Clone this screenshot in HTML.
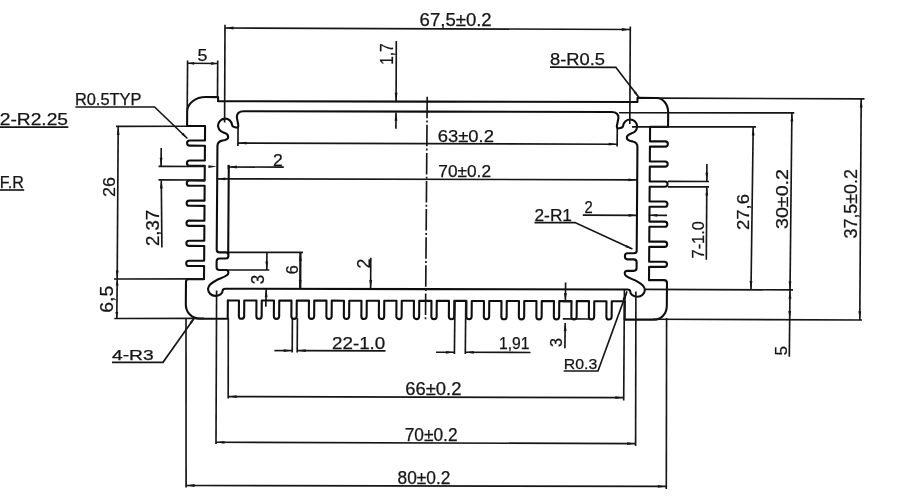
<!DOCTYPE html>
<html><head><meta charset="utf-8"><title>drawing</title>
<style>html,body{margin:0;padding:0;background:#fff;}svg{display:block;}</style>
</head><body>
<svg width="900" height="500" viewBox="0 0 900 500">
<defs><filter id="soft" x="0" y="0" width="100%" height="100%" filterUnits="userSpaceOnUse"><feGaussianBlur stdDeviation="0.45"/></filter></defs>
<g filter="url(#soft)">
<rect width="900" height="500" fill="#ffffff"/>
<g transform="matrix(1 0.0020 -0.0070 1.0027 1.46 -1.12)" fill="none" stroke="#111111" stroke-width="2.1" stroke-linejoin="round" stroke-linecap="round">
<g><path d="M 427 101.6 H 217.3 V 97.5 H 205 A 18.5 14.5 0 0 0 186.5 112 V 126.3 H 204.5 V 140.8 H 189.2 A 2.6 2.6 0 0 0 189.2 146 H 204.5 V 160.8 H 189.2 A 2.6 2.6 0 0 0 189.2 166 H 204.5 V 180.8 H 189.2 A 2.6 2.6 0 0 0 189.2 186 H 204.5 V 200.8 H 189.2 A 2.6 2.6 0 0 0 189.2 206 H 204.5 V 220.8 H 189.2 A 2.6 2.6 0 0 0 189.2 226 H 204.5 V 240.8 H 189.2 A 2.6 2.6 0 0 0 189.2 246 H 204.5 V 260.8 H 189.2 A 2.6 2.6 0 0 0 189.2 266 H 204.5 V 279.2 H 189 Q 186.5 279.2 186.5 281.7 V 304.6 A 14 14 0 0 0 200.5 318.6 H 228.5 V 300.3"/><path d="M 427 111.6 H 243 C 239 111.6 236.2 113.2 236.2 117.4 L 237.7 125.6 C 237.9 127.6 236.9 128.2 235.9 127.9 C 233.8 127.3 231.6 127.6 231.45 125.1 A 7 7 0 1 0 222.9 132.8 C 225.1 133.7 227.7 134.2 227.7 137.2 C 227.7 140 224.8 140.4 221.8 140.9 C 218.8 141.4 217 143.2 217 146.5 V 249.6 Q 217 252.4 219.8 252.4 H 226.3 C 229.6 252.4 229.6 258.5 226.3 258.5 H 219.8 Q 217 258.5 217 261.3 V 267.2 Q 217 270 219.8 270 H 226.3 C 229.4 270 229.6 273.6 227.2 275.2 C 224.5 277.2 220 278.6 216.5 280.4 C 211.5 283 208.6 285 208.6 288.8 C 208.6 292.8 212 295.8 216 295.8 C 220 295.8 223.2 293.3 223.2 290.6 C 223.2 289.2 224.3 288.6 226.2 288.6 H 427"/><path d="M 228.5 166 V 254"/></g>
<g transform="translate(854 0) scale(-1 1)"><path d="M 427 101.6 H 217.3 V 97.5 H 198 A 11.5 14.5 0 0 0 186.5 112 V 126.3 H 204.5 V 140.8 H 189.2 A 2.6 2.6 0 0 0 189.2 146 H 204.5 V 160.8 H 189.2 A 2.6 2.6 0 0 0 189.2 166 H 204.5 V 180.8 H 189.2 A 2.6 2.6 0 0 0 189.2 186 H 204.5 V 200.8 H 189.2 A 2.6 2.6 0 0 0 189.2 206 H 204.5 V 220.8 H 189.2 A 2.6 2.6 0 0 0 189.2 226 H 204.5 V 240.8 H 189.2 A 2.6 2.6 0 0 0 189.2 246 H 204.5 V 260.8 H 189.2 A 2.6 2.6 0 0 0 189.2 266 H 204.5 V 279.2 H 189.5 Q 186.5 279.2 186.5 282.2 V 304.6 A 12 14 0 0 0 198.5 318.6 H 228.5 V 300.3"/><path d="M 427 111.6 H 243 C 239 111.6 236.2 113.2 236.2 117.4 L 237.7 125.6 C 237.9 127.6 236.9 128.2 235.9 127.9 C 233.8 127.3 231.6 127.6 231.45 125.1 A 7 7 0 1 0 222.9 132.8 C 225.1 133.7 227.7 134.2 227.7 137.2 C 227.7 140 224.8 140.4 221.8 140.9 C 218.8 141.4 217 143.2 217 146.5 V 249.6 Q 217 252.4 219.8 252.4 H 226.3 C 229.6 252.4 229.6 258.5 226.3 258.5 H 219.8 Q 217 258.5 217 261.3 V 267.2 Q 217 270 219.8 270 H 226.3 C 229.4 270 229.6 273.6 227.2 275.2 C 224.5 277.2 220 278.6 216.5 280.4 C 211.5 283 208.6 285 208.6 288.8 C 208.6 292.8 212 295.8 216 295.8 C 220 295.8 223.2 293.3 223.2 290.6 C 223.2 289.2 224.3 288.6 226.2 288.6 H 427"/></g>
<path d="M 228.5 300.3 H 239.6 V 315.9 A 2.65 2.65 0 0 0 244.9 315.9 V 300.3 H 257.1 V 315.9 A 2.65 2.65 0 0 0 262.4 315.9 V 300.3 H 274.6 V 315.9 A 2.65 2.65 0 0 0 279.9 315.9 V 300.3 H 292.1 V 315.9 A 2.65 2.65 0 0 0 297.4 315.9 V 300.3 H 309.6 V 315.9 A 2.65 2.65 0 0 0 314.9 315.9 V 300.3 H 327.1 V 315.9 A 2.65 2.65 0 0 0 332.4 315.9 V 300.3 H 344.6 V 315.9 A 2.65 2.65 0 0 0 349.9 315.9 V 300.3 H 362.1 V 315.9 A 2.65 2.65 0 0 0 367.4 315.9 V 300.3 H 379.6 V 315.9 A 2.65 2.65 0 0 0 384.9 315.9 V 300.3 H 397.1 V 315.9 A 2.65 2.65 0 0 0 402.4 315.9 V 300.3 H 414.6 V 315.9 A 2.65 2.65 0 0 0 419.9 315.9 V 300.3 H 432.1 V 315.9 A 2.65 2.65 0 0 0 437.4 315.9 V 300.3 H 449.6 V 315.9 A 2.65 2.65 0 0 0 454.9 315.9 V 300.3 H 467.1 V 315.9 A 2.65 2.65 0 0 0 472.4 315.9 V 300.3 H 484.6 V 315.9 A 2.65 2.65 0 0 0 489.9 315.9 V 300.3 H 502.1 V 315.9 A 2.65 2.65 0 0 0 507.4 315.9 V 300.3 H 519.6 V 315.9 A 2.65 2.65 0 0 0 524.9 315.9 V 300.3 H 537.1 V 315.9 A 2.65 2.65 0 0 0 542.4 315.9 V 300.3 H 554.6 V 315.9 A 2.65 2.65 0 0 0 559.9 315.9 V 300.3 H 572.1 V 315.9 A 2.65 2.65 0 0 0 577.4 315.9 V 300.3 H 589.6 V 315.9 A 2.65 2.65 0 0 0 594.9 315.9 V 300.3 H 607.1 V 315.9 A 2.65 2.65 0 0 0 612.4 315.9 V 300.3 H 625.5"/>
</g>
<g fill="none" stroke="#161616" stroke-width="1.65" stroke-linecap="butt">
<line x1="225" y1="24.8" x2="224.6" y2="122.5"/>
<line x1="630.3" y1="26.5" x2="629.8" y2="124"/>
<line x1="225" y1="28" x2="630.3" y2="29.5"/>
<polygon points="225,28 233.5,26.6 233.5,29.4" fill="#161616" stroke="none"/>
<polygon points="630.3,29.5 621.8,30.9 621.8,28.1" fill="#161616" stroke="none"/>
<line x1="187.6" y1="60.5" x2="187.2" y2="113"/>
<line x1="217.7" y1="60.5" x2="217.5" y2="98"/>
<line x1="187.6" y1="63.3" x2="217.7" y2="63.5"/>
<polygon points="187.6,63.3 194.1,61.9 194.1,64.7" fill="#161616" stroke="none"/>
<polygon points="217.7,63.5 211.2,64.9 211.2,62.1" fill="#161616" stroke="none"/>
<line x1="396.3" y1="41" x2="396.1" y2="101"/>
<polygon points="396.1,101.2 394.7,92.7 397.5,92.7" fill="#161616" stroke="none"/>
<line x1="396" y1="112.6" x2="395.9" y2="128.8"/>
<polygon points="396,112.2 397.4,120.7 394.6,120.7" fill="#161616" stroke="none"/>
<line x1="238.1" y1="126" x2="237.9" y2="146"/>
<line x1="617.3" y1="128" x2="617.1" y2="146.5"/>
<line x1="238" y1="143.1" x2="617.2" y2="144.2"/>
<polygon points="238,143.1 246.5,141.7 246.5,144.5" fill="#161616" stroke="none"/>
<polygon points="617.2,144.2 608.7,145.6 608.7,142.8" fill="#161616" stroke="none"/>
<line x1="228.4" y1="165" x2="228.4" y2="169"/>
<line x1="228.4" y1="167" x2="283.8" y2="167.1"/>
<polygon points="228.4,167 236.9,165.6 236.9,168.4" fill="#161616" stroke="none"/>
<polygon points="216.9,166.6 208.4,168 208.4,165.2" fill="#161616" stroke="none"/>
<line x1="216.9" y1="178.8" x2="636.9" y2="179.8"/>
<polygon points="216.9,178.8 225.4,177.4 225.4,180.2" fill="#161616" stroke="none"/>
<polygon points="636.9,179.8 628.4,181.2 628.4,178.4" fill="#161616" stroke="none"/>
<line x1="158.5" y1="166.4" x2="205" y2="166.5"/>
<line x1="158.5" y1="179.9" x2="205" y2="180"/>
<line x1="161.2" y1="148" x2="161.1" y2="166.2"/>
<polygon points="161.1,166.3 159.7,157.8 162.5,157.8" fill="#161616" stroke="none"/>
<line x1="161.3" y1="180.2" x2="161.9" y2="247.5"/>
<polygon points="161.3,180 162.7,188.5 159.9,188.5" fill="#161616" stroke="none"/>
<line x1="116" y1="126.3" x2="187" y2="126.2"/>
<line x1="114" y1="279" x2="204" y2="278.8"/>
<line x1="118.2" y1="126.3" x2="117.2" y2="279"/>
<polygon points="118.2,126.4 119.6,134.9 116.8,134.9" fill="#161616" stroke="none"/>
<polygon points="117.2,278.9 115.8,270.4 118.6,270.4" fill="#161616" stroke="none"/>
<line x1="114.3" y1="318.5" x2="204" y2="318.4"/>
<line x1="117.2" y1="279" x2="116.8" y2="318.5"/>
<polygon points="117.2,279.1 118.6,285.6 115.8,285.6" fill="#161616" stroke="none"/>
<polygon points="116.8,318.4 115.4,311.9 118.2,311.9" fill="#161616" stroke="none"/>
<line x1="229" y1="252.4" x2="303" y2="252.4"/>
<line x1="219" y1="270" x2="269.3" y2="270"/>
<line x1="266.9" y1="252.4" x2="266.8" y2="270"/>
<polygon points="266.8,270 265.4,261.5 268.2,261.5" fill="#161616" stroke="none"/>
<line x1="266.2" y1="288.8" x2="265.8" y2="306.8"/>
<polygon points="266.2,288.7 267.6,297.2 264.8,297.2" fill="#161616" stroke="none"/>
<line x1="300.4" y1="252.4" x2="300.2" y2="288.3" stroke-width="2.3"/>
<polygon points="300.4,252.5 301.8,261 299,261" fill="#161616" stroke="none"/>
<polygon points="300.2,288.3 298.8,279.8 301.6,279.8" fill="#161616" stroke="none"/>
<line x1="370.8" y1="257.7" x2="370.6" y2="288.3"/>
<polygon points="370.7,288.4 369.3,279.9 372.1,279.9" fill="#161616" stroke="none"/>
<line x1="582.8" y1="215.1" x2="637" y2="215.3"/>
<polygon points="637,215.3 628.5,216.7 628.5,213.9" fill="#161616" stroke="none"/>
<line x1="648.8" y1="215.3" x2="667" y2="215.4"/>
<polygon points="648.8,215.3 657.3,213.9 657.3,216.7" fill="#161616" stroke="none"/>
<line x1="668" y1="181.4" x2="709" y2="181.5"/>
<line x1="668" y1="186.8" x2="709" y2="186.8"/>
<line x1="706.9" y1="164" x2="706.8" y2="181"/>
<polygon points="706.8,181.2 705.4,172.7 708.2,172.7" fill="#161616" stroke="none"/>
<line x1="706.8" y1="187.2" x2="706.3" y2="259.8"/>
<polygon points="706.8,187 708.2,195.5 705.4,195.5" fill="#161616" stroke="none"/>
<line x1="632" y1="126.8" x2="756" y2="126.9"/>
<line x1="753.2" y1="126.9" x2="751" y2="289.5"/>
<polygon points="753.2,127 754.6,135.5 751.8,135.5" fill="#161616" stroke="none"/>
<polygon points="751,289.4 749.6,280.9 752.4,280.9" fill="#161616" stroke="none"/>
<line x1="619" y1="112.7" x2="794.3" y2="112.9"/>
<line x1="791.9" y1="112.9" x2="789.3" y2="356.8"/>
<polygon points="791.9,113 793.3,121.5 790.5,121.5" fill="#161616" stroke="none"/>
<polygon points="790,289.7 788.6,281.2 791.4,281.2" fill="#161616" stroke="none"/>
<polygon points="790,290.2 791.4,298.7 788.6,298.7" fill="#161616" stroke="none"/>
<polygon points="789.7,319.6 788.3,311.1 791.1,311.1" fill="#161616" stroke="none"/>
<line x1="657" y1="98.1" x2="864.5" y2="98.9"/>
<line x1="861.2" y1="98.9" x2="859.8" y2="319.9"/>
<polygon points="861.2,99 862.6,107.5 859.8,107.5" fill="#161616" stroke="none"/>
<polygon points="859.8,319.8 858.4,311.3 861.2,311.3" fill="#161616" stroke="none"/>
<line x1="644" y1="289.4" x2="793" y2="289.9"/>
<line x1="653" y1="319.2" x2="862" y2="320"/>
<line x1="292.4" y1="318" x2="292.2" y2="352.6"/>
<line x1="297.4" y1="318" x2="297.2" y2="352.6"/>
<line x1="274.4" y1="350.6" x2="292.2" y2="350.6"/>
<polygon points="292.2,350.6 283.7,352 283.7,349.2" fill="#161616" stroke="none"/>
<line x1="297.2" y1="350.6" x2="385.5" y2="350.8"/>
<polygon points="297.2,350.6 305.7,349.2 305.7,352" fill="#161616" stroke="none"/>
<line x1="455" y1="300" x2="454.4" y2="354"/>
<line x1="465.8" y1="300" x2="465.3" y2="354"/>
<line x1="436" y1="352.2" x2="454.4" y2="352.3"/>
<polygon points="454.4,352.3 445.9,353.7 445.9,350.9" fill="#161616" stroke="none"/>
<line x1="465.3" y1="352.3" x2="530.5" y2="352.5"/>
<polygon points="465.3,352.3 473.8,350.9 473.8,353.7" fill="#161616" stroke="none"/>
<line x1="565.6" y1="282.5" x2="565.4" y2="301.3"/>
<polygon points="565.4,301.4 564,292.9 566.8,292.9" fill="#161616" stroke="none"/>
<line x1="562.8" y1="301.5" x2="572.2" y2="301.5"/>
<line x1="562.8" y1="318.9" x2="593" y2="319"/>
<line x1="565.2" y1="323" x2="564.9" y2="348.2"/>
<polygon points="565.2,322.6 566.6,331.1 563.8,331.1" fill="#161616" stroke="none"/>
<line x1="228.3" y1="318" x2="228.2" y2="398.5"/>
<line x1="624.4" y1="290" x2="623.7" y2="400.5"/>
<line x1="228.2" y1="396.6" x2="623.8" y2="397.6"/>
<polygon points="228.2,396.6 236.7,395.2 236.7,398" fill="#161616" stroke="none"/>
<polygon points="623.8,397.6 615.3,399 615.3,396.2" fill="#161616" stroke="none"/>
<line x1="216.6" y1="290.5" x2="216" y2="444"/>
<line x1="635.9" y1="291.5" x2="635.6" y2="446"/>
<line x1="216" y1="442.3" x2="635.6" y2="443.6"/>
<polygon points="216,442.3 224.5,440.9 224.5,443.7" fill="#161616" stroke="none"/>
<polygon points="635.6,443.6 627.1,445 627.1,442.2" fill="#161616" stroke="none"/>
<line x1="186" y1="318" x2="186.1" y2="487.5"/>
<line x1="666.6" y1="318" x2="666.3" y2="489"/>
<line x1="186.1" y1="485.5" x2="666.3" y2="486.4"/>
<polygon points="186.1,485.5 194.6,484.1 194.6,486.9" fill="#161616" stroke="none"/>
<polygon points="666.3,486.4 657.8,487.8 657.8,485" fill="#161616" stroke="none"/>
<polyline points="550,67.1 615.8,67.3 639,97.6"/>
<polyline points="75.4,107 154.6,107 187.4,138.5"/>
<polyline points="-2,127.1 68.3,127.1"/>
<polyline points="-2,190 24.2,190"/>
<polyline points="534.5,222.6 575,222.6 632.4,249"/>
<polyline points="563.8,371 598,371 627,291.4"/>
<polyline points="112,362.3 163,362.3 194.7,317.4"/>
<polygon points="639,97.6 633.71,92.83 635.78,91.25" fill="#161616" stroke="none"/>
<polygon points="187.4,138.5 181.45,134.59 183.25,132.71" fill="#161616" stroke="none"/>
<polygon points="632.4,249 625.5,247.26 626.58,244.89" fill="#161616" stroke="none"/>
<polygon points="627,291.4 625.42,300.4 622.42,299.31" fill="#161616" stroke="none"/>
<polygon points="194.7,317.4 191.72,323.87 189.6,322.37" fill="#161616" stroke="none"/>
<line x1="427.2" y1="96.7" x2="425.5" y2="320" stroke-dasharray="21.5 2.3 2 2.3"/>
</g>
<g font-family="'Liberation Sans', sans-serif" fill="#141414" stroke="#141414" stroke-width="0.25">
<text x="419.6" y="25.7" font-size="17.7" textLength="72.1" lengthAdjust="spacingAndGlyphs">67,5±0.2</text>
<text x="197.6" y="61" font-size="16.69" textLength="9.9" lengthAdjust="spacingAndGlyphs">5</text>
<text x="550" y="64.9" font-size="16.98" textLength="55" lengthAdjust="spacingAndGlyphs">8-R0.5</text>
<text x="74.9" y="105.2" font-size="15.83" textLength="66.6" lengthAdjust="spacingAndGlyphs">R0.5TYP</text>
<text x="-0.3" y="124.8" font-size="16.55" textLength="68.3" lengthAdjust="spacingAndGlyphs">2-R2.25</text>
<text x="-0.3" y="187.7" font-size="16.55" textLength="24.1" lengthAdjust="spacingAndGlyphs">F.R</text>
<text x="437.7" y="142" font-size="16.69" textLength="56.3" lengthAdjust="spacingAndGlyphs">63±0.2</text>
<text x="438.3" y="177.2" font-size="16.83" textLength="52.7" lengthAdjust="spacingAndGlyphs">70±0.2</text>
<text x="273" y="166.4" font-size="16.4" textLength="9.8" lengthAdjust="spacingAndGlyphs">2</text>
<text x="534.5" y="220.6" font-size="16.26" textLength="37.5" lengthAdjust="spacingAndGlyphs">2-R1</text>
<text x="584.4" y="213" font-size="16.55" textLength="8.2" lengthAdjust="spacingAndGlyphs">2</text>
<text x="332" y="348.8" font-size="16.98" textLength="53.3" lengthAdjust="spacingAndGlyphs">22-1.0</text>
<text x="499" y="348.8" font-size="16.98" textLength="30.6" lengthAdjust="spacingAndGlyphs">1,91</text>
<text x="563.8" y="368.8" font-size="14.96" textLength="33.5" lengthAdjust="spacingAndGlyphs">R0.3</text>
<text x="405.2" y="395" font-size="17.55" textLength="56.2" lengthAdjust="spacingAndGlyphs">66±0.2</text>
<text x="404.7" y="440.8" font-size="17.55" textLength="52.9" lengthAdjust="spacingAndGlyphs">70±0.2</text>
<text x="397.5" y="484" font-size="17.55" textLength="52.9" lengthAdjust="spacingAndGlyphs">80±0.2</text>
<text x="112" y="360.4" font-size="15.25" textLength="41.7" lengthAdjust="spacingAndGlyphs">4-R3</text>
<text transform="translate(392.8 64.8) rotate(-90)" x="0" y="0" font-size="17.7" textLength="21.4" lengthAdjust="spacingAndGlyphs">1,7</text>
<text transform="translate(115.3 197) rotate(-90)" x="0" y="0" font-size="17.27" textLength="20" lengthAdjust="spacingAndGlyphs">26</text>
<text transform="translate(158.5 246) rotate(-90)" x="0" y="0" font-size="17.99" textLength="36.2" lengthAdjust="spacingAndGlyphs">2,37</text>
<text transform="translate(113.3 312.7) rotate(-90)" x="0" y="0" font-size="18.42" textLength="26.9" lengthAdjust="spacingAndGlyphs">6,5</text>
<text transform="translate(264.3 284.2) rotate(-90)" x="0" y="0" font-size="17.99" textLength="9.5" lengthAdjust="spacingAndGlyphs">3</text>
<text transform="translate(298 274.2) rotate(-90)" x="0" y="0" font-size="17.27" textLength="9" lengthAdjust="spacingAndGlyphs">6</text>
<text transform="translate(369.6 268.6) rotate(-90)" x="0" y="0" font-size="18.42" textLength="9.8" lengthAdjust="spacingAndGlyphs">2</text>
<text transform="translate(703.6 258.5) rotate(-90)" x="0" y="0" font-size="16.69" textLength="37.5" lengthAdjust="spacingAndGlyphs">7-1.0</text>
<text transform="translate(748.5 230) rotate(-90)" x="0" y="0" font-size="16.55" textLength="36" lengthAdjust="spacingAndGlyphs">27,6</text>
<text transform="translate(788 229) rotate(-90)" x="0" y="0" font-size="16.26" textLength="60" lengthAdjust="spacingAndGlyphs">30±0.2</text>
<text transform="translate(857.3 238.5) rotate(-90)" x="0" y="0" font-size="17.7" textLength="69.5" lengthAdjust="spacingAndGlyphs">37,5±0.2</text>
<text transform="translate(786.5 355.5) rotate(-90)" x="0" y="0" font-size="17.27" textLength="9.5" lengthAdjust="spacingAndGlyphs">5</text>
<text transform="translate(562 347) rotate(-90)" x="0" y="0" font-size="15.83" textLength="9" lengthAdjust="spacingAndGlyphs">3</text>
</g>
</g>
</svg>
</body></html>
